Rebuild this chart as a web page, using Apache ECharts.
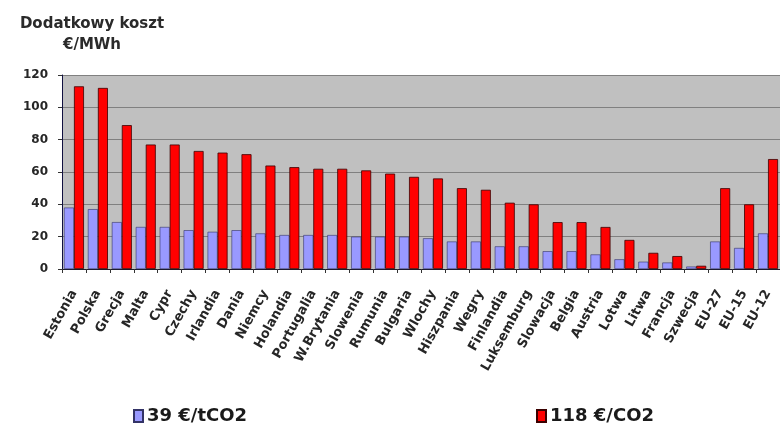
<!DOCTYPE html>
<html>
<head>
<meta charset="utf-8">
<script src="https://cdn.jsdelivr.net/npm/echarts@6/dist/echarts.min.js"></script>
<style>
  html, body { margin: 0; padding: 0; background: #ffffff; }
  #chart { width: 780px; height: 426px; }
</style>
</head>
<body>
<div id="chart"></div>
<script>
// Kraje i agregaty UE
const kraje = ['Estonia', 'Polska', 'Grecja', 'Malta', 'Cypr', 'Czechy', 'Irlandia', 'Dania',
  'Niemcy', 'Holandia', 'Portugalia', 'W.Brytania', 'Slowenia', 'Rumunia', 'Bulgaria', 'Wlochy',
  'Hiszpania', 'Wegry', 'Finlandia', 'Luksemburg', 'Slowacja', 'Belgia', 'Austria', 'Lotwa',
  'Litwa', 'Francja', 'Szwecja', 'EU-27', 'EU-15', 'EU-12'];

// Dodatkowy koszt [€/MWh] przy cenie 39 €/tCO2
const koszt39 = [38, 37, 29, 26, 26, 24, 23, 24, 22, 21, 21, 21, 20, 20, 20, 19,
  17, 17, 14, 14, 11, 11, 9, 6, 4.5, 4, 1.5, 17, 13, 22];

// Dodatkowy koszt [€/MWh] przy cenie 118 €/tCO2
const koszt118 = [113, 112, 89, 77, 77, 73, 72, 71, 64, 63, 62, 62, 61, 59, 57, 56,
  50, 49, 41, 40, 29, 29, 26, 18, 10, 8, 2, 50, 40, 68];

const nazwySerii = ['39 €/tCO2', '118 €/CO2'];
const tytul = ['Dodatkowy koszt', '€/MWh'];
const osY = { min: 0, max: 120, krok: 20 };

const FONT = 'DejaVu Sans';
const chart = echarts.init(document.getElementById('chart'), null, { renderer: 'canvas' });

const stylLegendy = { fontFamily: FONT, fontWeight: 'bold', fontSize: 18, color: '#1a1a1a', padding: [0, 0, 0, -1] };

chart.setOption({
  animation: false,
  backgroundColor: '#ffffff',
  title: {
    text: tytul.join('\n'),
    left: 87,
    top: 9,
    textAlign: 'center',
    textStyle: { fontFamily: FONT, fontWeight: 'bold', fontSize: 15, color: '#2a2a2a', lineHeight: 21 }
  },
  legend: [
    {
      data: [nazwySerii[0]],
      left: 128, top: 402,
      icon: 'rect', itemWidth: 9, itemHeight: 12, itemGap: 4,
      textStyle: stylLegendy
    },
    {
      data: [nazwySerii[1]],
      left: 531, top: 402,
      icon: 'rect', itemWidth: 9, itemHeight: 12, itemGap: 4,
      textStyle: stylLegendy
    }
  ],
  grid: {
    left: 62, top: 75, width: 720, height: 194,
    show: true, backgroundColor: '#c0c0c0', borderWidth: 0,
    containLabel: false
  },
  xAxis: {
    type: 'category',
    data: kraje,
    axisLine: { lineStyle: { color: '#1a1a2a', width: 1 } },
    axisTick: { show: true, length: 4, lineStyle: { color: '#333' } },
    axisLabel: {
      interval: 0, rotate: 61, margin: 22,
      fontFamily: FONT, fontWeight: 'bold', fontSize: 13, color: '#262626'
    }
  },
  yAxis: {
    type: 'value',
    min: osY.min, max: osY.max, interval: osY.krok,
    axisLine: { show: true, lineStyle: { color: '#101040', width: 1 } },
    axisTick: { show: true, length: 4, lineStyle: { color: '#333' } },
    axisLabel: { margin: 14, fontFamily: FONT, fontWeight: 'bold', fontSize: 12, color: '#262626' },
    splitLine: { lineStyle: { color: '#808080', width: 1 } }
  },
  series: [
    {
      name: nazwySerii[0],
      type: 'bar',
      data: koszt39,
      barWidth: 10,
      barGap: '0%',
      itemStyle: { color: '#9999ff', borderColor: '#333366', borderWidth: 0.6 }
    },
    {
      name: nazwySerii[1],
      type: 'bar',
      data: koszt118,
      barWidth: 10,
      barGap: '0%',
      itemStyle: { color: '#ff0000', borderColor: '#3a0000', borderWidth: 0.8 }
    }
  ]
});
</script>
</body>
</html>
